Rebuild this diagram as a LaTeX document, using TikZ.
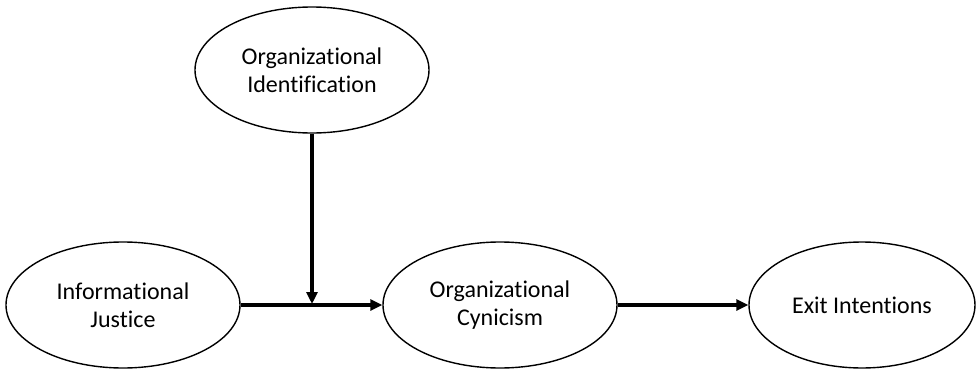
\documentclass[tikz,border=0pt]{standalone}
\usepackage{fontspec}
\setmainfont[Ligatures=NoCommon]{Carlito}
\usetikzlibrary{shapes.geometric,arrows.meta}

\tikzset{
    construct/.style={ellipse, draw, line width=0.7pt, minimum width=117pt,
        minimum height=63pt, inner sep=0pt, align=center,
        font=\fontsize{12}{14}\selectfont},
    path/.style={line width=2pt, -{Triangle[length=6pt, width=5.5pt]}}
}

\begin{document}
\begin{tikzpicture}[x=0.5pt, y=-0.5pt]
                    \useasboundingbox (0, 0) rectangle (976, 370);

                    \node[construct] (idn) at (312, 70) {Organizational\\Identification};
                    \node[construct] (ij) at (123, 305) {Informational\\Justice};
                    \node[construct] (oc) at (500, 305) {Organizational\\Cynicism};
                    \node[construct, minimum width=113pt] (ei) at (862, 305) {Exit Intentions};

                    \coordinate (mod) at (312, 304);

                    \draw[path] (ij) -- (oc);
                    \draw[path] (oc) -- (ei);
                    \draw[path] (idn) -- (mod);
                \end{tikzpicture}
\end{document}
